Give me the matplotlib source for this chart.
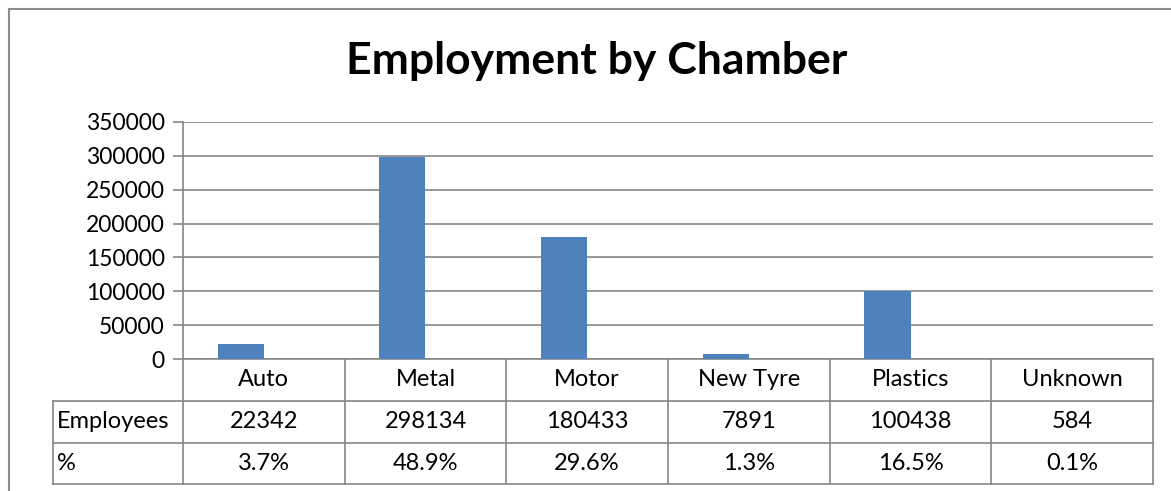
import matplotlib
matplotlib.use("Agg")
import matplotlib.pyplot as plt
from matplotlib.patches import Rectangle
from matplotlib.lines import Line2D
import matplotlib.transforms as mtransforms

chambers = ["Auto", "Metal", "Motor", "New Tyre", "Plastics", "Unknown"]
employees = [22342, 298134, 180433, 7891, 100438, 584]
shares = ["3.7%", "48.9%", "29.6%", "1.3%", "16.5%", "0.1%"]
row_labels = ["Employees", "%"]

bar_color = "#4F81BD"
line_color = "#868686"
plt.rcParams["font.family"] = ["Lato", "DejaVu Sans"]

W, H = 1171, 491
fig = plt.figure(figsize=(W / 100, H / 100), dpi=100)

# chart border (runs off the right and bottom edges)
fig.patches.append(Rectangle((8.5 / W, -0.1), 1.2, 1.1 - 9.5 / H, transform=fig.transFigure,
                             fill=False, edgecolor="#8c8c8c", lw=1.5))

ax = fig.add_axes([183 / W, (H - 359) / H, (1153 - 183) / W, (359 - 122) / H])
n = len(chambers)
width = 1 / 3.5
x = list(range(n))
# second (hidden) series sits to the right of each bar, as in a two-series cluster
ax.bar([i - width / 2 for i in x], employees, width=width, color=bar_color, zorder=3)

ax.set_xlim(-0.5, n - 0.5)
ax.set_ylim(0, 350000)
ax.set_yticks(range(0, 350001, 50000))
ax.yaxis.grid(True, color=line_color, lw=1.2)
ax.set_axisbelow(True)
ax.set_xticks([])
ax.tick_params(axis="y", length=7, width=1.2, color=line_color, labelsize=16.5, pad=6)
for s in ["top", "right"]:
    ax.spines[s].set_visible(False)
ax.spines["left"].set_color(line_color)
ax.spines["left"].set_linewidth(1.2)
ax.spines["bottom"].set_color(line_color)
ax.spines["bottom"].set_linewidth(1.2)

fig.text(0.5 * (345 + 848) / W, (H - 61) / H, "Employment by Chamber", ha="center", va="center",
         fontsize=32, fontweight="bold")

# data table below the axis, in pixel coordinates
px = mtransforms.Affine2D().scale(1 / W, -1 / H).translate(0, 1) + fig.transFigure
row_y = [359, 401, 443, 484]
col_x = [183 + i * (1153 - 183) / n for i in range(n + 1)]
kw = dict(color=line_color, lw=1.2, transform=px, clip_on=False)
fig.add_artist(Line2D([53, 1153], [401, 401], **kw))
fig.add_artist(Line2D([53, 1153], [443, 443], **kw))
fig.add_artist(Line2D([53, 1153], [484, 484], **kw))
fig.add_artist(Line2D([53, 53], [401, 484], **kw))
fig.add_artist(Line2D([183, 183], [359, 484], **kw))
for cx in col_x[1:]:
    fig.add_artist(Line2D([cx, cx], [359, 484], **kw))

for i in range(n):
    cx = (col_x[i] + col_x[i + 1]) / 2
    for r, txt in enumerate([chambers[i], str(employees[i]), shares[i]]):
        fig.text(cx, (row_y[r] + row_y[r + 1]) / 2, txt, transform=px, ha="center", va="center",
                 fontsize=17)
for r, lab in enumerate(row_labels):
    fig.text(57, (row_y[r + 1] + row_y[r + 2]) / 2, lab, transform=px, ha="left", va="center",
             fontsize=17)

fig.savefig("out.png", dpi=100)
